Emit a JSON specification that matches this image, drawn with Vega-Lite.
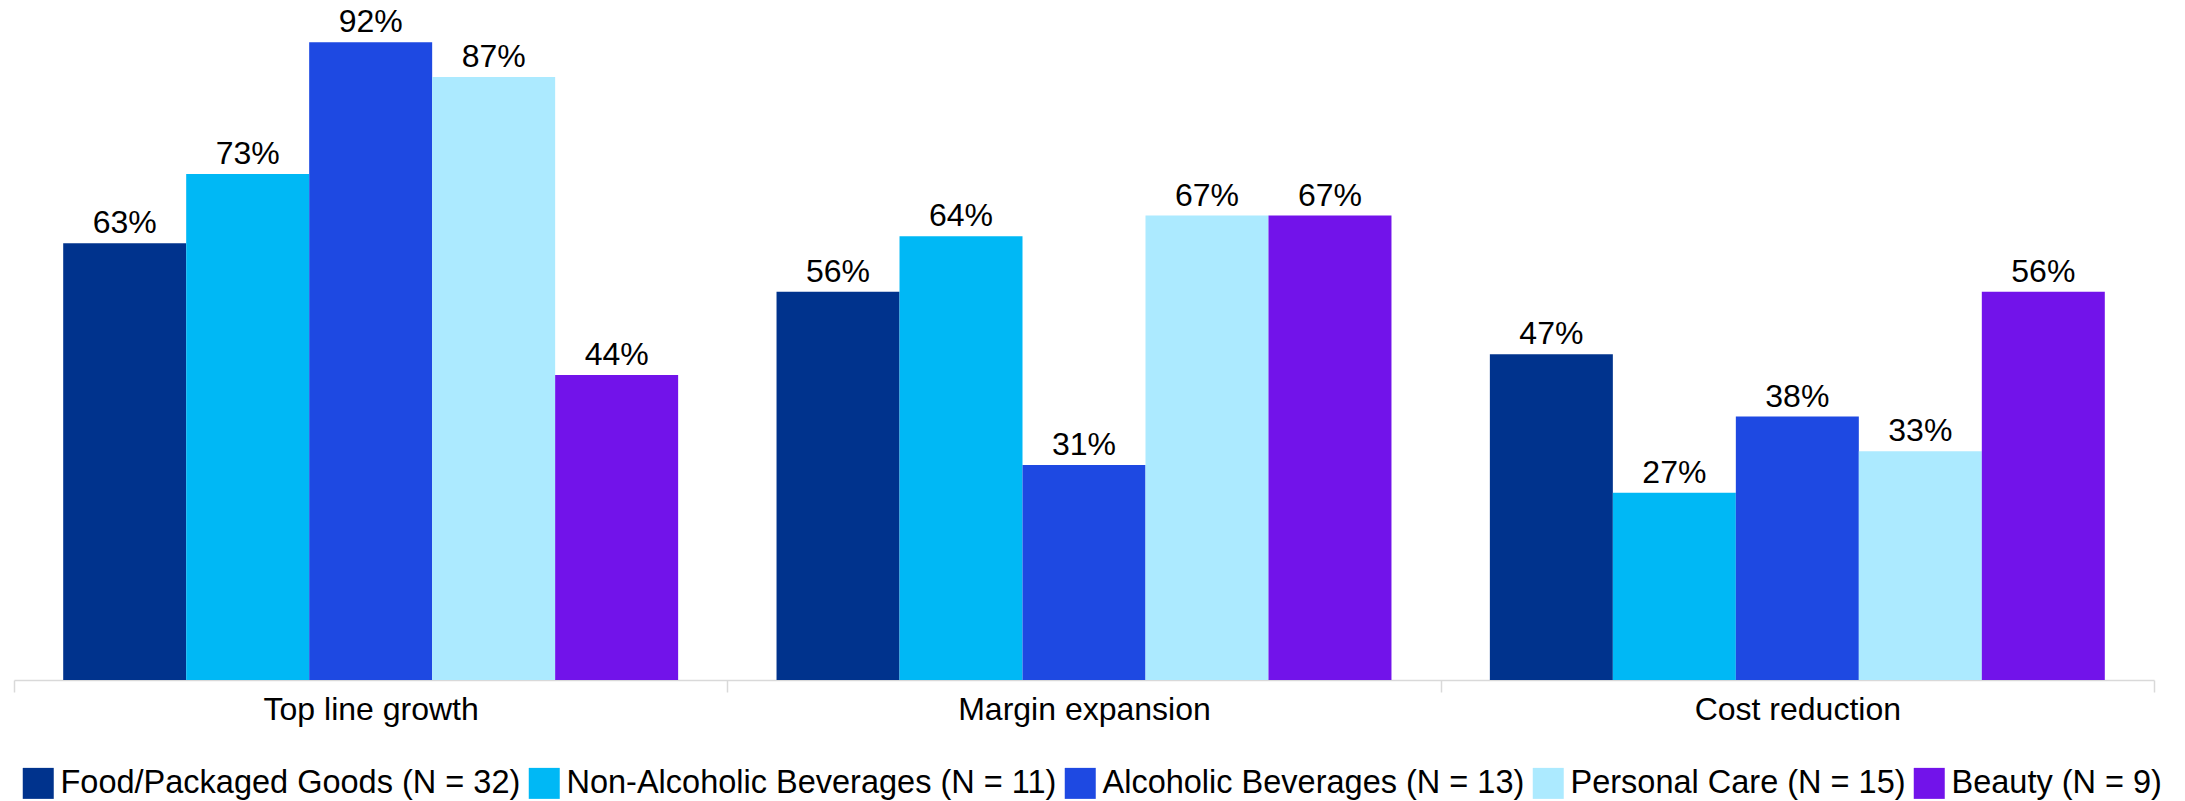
{
  "$schema": "https://vega.github.io/schema/vega-lite/v6.json",
  "autosize": {"type": "none"},
  "padding": {"left": 14, "top": 0, "right": 31, "bottom": 121},
  "width": 2140,
  "height": 680,
  "background": "white",
  "config": {
    "view": {"stroke": null},
    "font": "Liberation Sans",
    "text": {"font": "Liberation Sans"}
  },
  "data": {
    "values": [
      {"category": "Top line growth", "segment": "Food/Packaged Goods (N = 32)", "value": 0.63},
      {"category": "Top line growth", "segment": "Non-Alcoholic Beverages (N = 11)", "value": 0.73},
      {"category": "Top line growth", "segment": "Alcoholic Beverages (N = 13)", "value": 0.92},
      {"category": "Top line growth", "segment": "Personal Care (N = 15)", "value": 0.87},
      {"category": "Top line growth", "segment": "Beauty (N = 9)", "value": 0.44},
      {"category": "Margin expansion", "segment": "Food/Packaged Goods (N = 32)", "value": 0.56},
      {"category": "Margin expansion", "segment": "Non-Alcoholic Beverages (N = 11)", "value": 0.64},
      {"category": "Margin expansion", "segment": "Alcoholic Beverages (N = 13)", "value": 0.31},
      {"category": "Margin expansion", "segment": "Personal Care (N = 15)", "value": 0.67},
      {"category": "Margin expansion", "segment": "Beauty (N = 9)", "value": 0.67},
      {"category": "Cost reduction", "segment": "Food/Packaged Goods (N = 32)", "value": 0.47},
      {"category": "Cost reduction", "segment": "Non-Alcoholic Beverages (N = 11)", "value": 0.27},
      {"category": "Cost reduction", "segment": "Alcoholic Beverages (N = 13)", "value": 0.38},
      {"category": "Cost reduction", "segment": "Personal Care (N = 15)", "value": 0.33},
      {"category": "Cost reduction", "segment": "Beauty (N = 9)", "value": 0.56}
    ]
  },
  "encoding": {
    "x": {
      "field": "category",
      "type": "nominal",
      "sort": ["Top line growth", "Margin expansion", "Cost reduction"],
      "scale": {"paddingInner": 0, "paddingOuter": 0},
      "axis": {
        "title": null,
        "labelAngle": 0,
        "labelFontSize": 32,
        "labelLimit": 0,
        "labelColor": "#000000",
        "labelFont": "Liberation Sans",
        "labelPadding": 2,
        "domainColor": "#D9D9D9",
        "domainWidth": 1.5,
        "tickColor": "#D9D9D9",
        "tickWidth": 1.5,
        "tickSize": 12,
        "tickBand": "extent"
      }
    },
    "xOffset": {
      "field": "segment",
      "type": "nominal",
      "sort": ["Food/Packaged Goods (N = 32)", "Non-Alcoholic Beverages (N = 11)", "Alcoholic Beverages (N = 13)", "Personal Care (N = 15)", "Beauty (N = 9)"],
      "scale": {"paddingInner": 0, "paddingOuter": 0.4}
    },
    "y": {
      "field": "value",
      "type": "quantitative",
      "scale": {"domain": [0, 0.981], "nice": false, "zero": true},
      "axis": null
    }
  },
  "layer": [
    {
      "mark": {"type": "bar"},
      "encoding": {
        "color": {
          "field": "segment",
          "type": "nominal",
          "sort": ["Food/Packaged Goods (N = 32)", "Non-Alcoholic Beverages (N = 11)", "Alcoholic Beverages (N = 13)", "Personal Care (N = 15)", "Beauty (N = 9)"],
          "scale": {
            "domain": ["Food/Packaged Goods (N = 32)", "Non-Alcoholic Beverages (N = 11)", "Alcoholic Beverages (N = 13)", "Personal Care (N = 15)", "Beauty (N = 9)"],
            "range": ["#00338D", "#00B8F5", "#1E49E2", "#ACEAFF", "#7213EA"]
          },
          "legend": {
            "title": null,
            "orient": "none",
            "direction": "horizontal",
            "legendX": 8,
            "legendY": 767,
            "symbolType": "square",
            "symbolSize": 961,
            "symbolStrokeWidth": 0,
            "symbolOpacity": 1,
            "labelFontSize": 32.5,
            "labelFont": "Liberation Sans",
            "labelColor": "#000000",
            "labelOffset": 6,
            "columnPadding": 7,
            "labelLimit": 1000
          }
        }
      }
    },
    {
      "mark": {"type": "text", "baseline": "alphabetic", "dy": -10, "fontSize": 32, "font": "Liberation Sans", "color": "#000000"},
      "encoding": {
        "text": {"field": "value", "type": "quantitative", "format": ".0%"}
      }
    }
  ]
}
